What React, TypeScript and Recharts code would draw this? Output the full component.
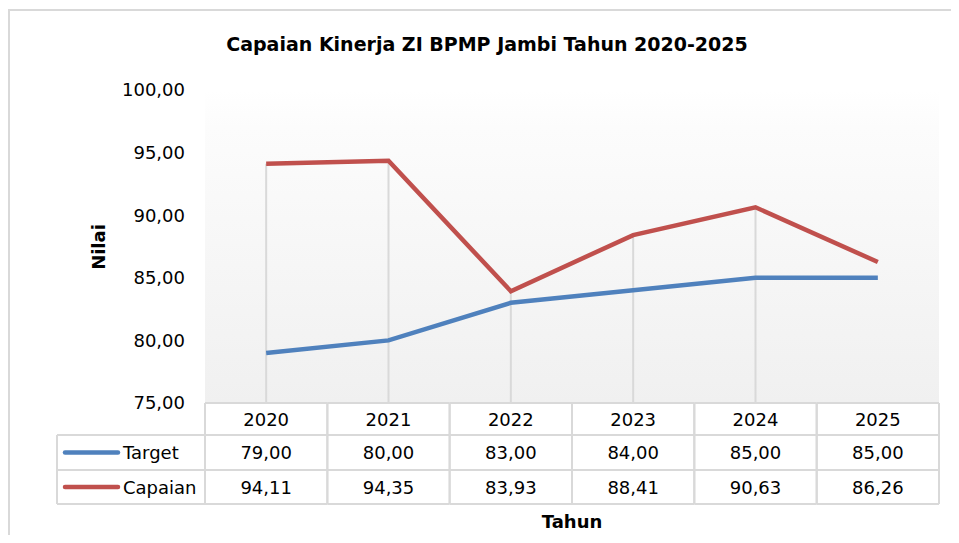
import React from "react";
import {
  CartesianGrid,
  Line,
  LineChart,
  ReferenceLine,
  XAxis,
  YAxis,
} from "recharts";

const years = ["2020", "2021", "2022", "2023", "2024", "2025"];
const target = [79, 80, 83, 84, 85, 85];
const capaian = [94.11, 94.35, 83.93, 88.41, 90.63, 86.26];
const yTicks = [75, 80, 85, 90, 95, 100];

const seriesInfo = [
  { key: "target", name: "Target", color: "#4f81bd", values: target },
  { key: "capaian", name: "Capaian", color: "#c0504d", values: capaian },
];

const data = years.map((year, i) => ({
  year,
  target: target[i],
  capaian: capaian[i],
}));

const W = 959;
const H = 543;
const PLOT_LEFT = 205;
const PLOT_RIGHT = 20;
const BAND = (W - PLOT_LEFT - PLOT_RIGHT) / years.length;
const ROW_H = [32, 35, 34];
const LEGEND_LEFT = 57;
const FONT = "'DejaVu Sans', Verdana, sans-serif";
const GRID = "#d9d9d9";

const fmt = (v: number) => v.toFixed(2).replace(".", ",");

const TableTick = (props: any) => {
  const { x, y, payload } = props;
  const i = payload.index;
  const left = x - BAND / 2;
  const right = x + BAND / 2;
  const r1 = y + ROW_H[0];
  const r2 = r1 + ROW_H[1];
  const r3 = r2 + ROW_H[2];
  const rowsMid = [y + ROW_H[0] / 2, r1 + ROW_H[1] / 2, r2 + ROW_H[2] / 2];
  return (
    <g>
      <line x1={left} x2={right} y1={y} y2={y} stroke={GRID} strokeWidth={2} />
      <line x1={left} x2={right} y1={r1} y2={r1} stroke={GRID} strokeWidth={2} />
      <line x1={left} x2={right} y1={r2} y2={r2} stroke={GRID} strokeWidth={2} />
      <line x1={left} x2={right} y1={r3} y2={r3} stroke={GRID} strokeWidth={2} />
      <line x1={left} x2={left} y1={y} y2={r3} stroke={GRID} strokeWidth={2} />
      <line x1={right} x2={right} y1={y} y2={r3} stroke={GRID} strokeWidth={2} />
      <text x={x} y={rowsMid[0]} textAnchor="middle" dominantBaseline="central" fontSize={18} fontFamily={FONT} fill="#000">
        {payload.value}
      </text>
      {seriesInfo.map((s, k) => (
        <text key={s.key} x={x} y={rowsMid[k + 1]} textAnchor="middle" dominantBaseline="central" fontSize={18} fontFamily={FONT} fill="#000">
          {fmt(s.values[i])}
        </text>
      ))}
      {i === 0 && (
        <g>
          <line x1={LEGEND_LEFT} x2={left} y1={r1} y2={r1} stroke={GRID} strokeWidth={2} />
          <line x1={LEGEND_LEFT} x2={left} y1={r2} y2={r2} stroke={GRID} strokeWidth={2} />
          <line x1={LEGEND_LEFT} x2={left} y1={r3} y2={r3} stroke={GRID} strokeWidth={2} />
          <line x1={LEGEND_LEFT} x2={LEGEND_LEFT} y1={r1} y2={r3} stroke={GRID} strokeWidth={2} />
          {seriesInfo.map((s, k) => (
            <g key={s.key}>
              <line x1={LEGEND_LEFT + 8} x2={LEGEND_LEFT + 61} y1={rowsMid[k + 1]} y2={rowsMid[k + 1]} stroke={s.color} strokeWidth={4.5} strokeLinecap="round" />
              <text x={LEGEND_LEFT + 66} y={rowsMid[k + 1]} dominantBaseline="central" fontSize={18} fontFamily={FONT} fill="#000">
                {s.name}
              </text>
            </g>
          ))}
        </g>
      )}
    </g>
  );
};

export default function App() {
  return (
    <div
      style={{
        position: "relative",
        width: W,
        height: H,
        margin: -8,
        background: "#fff",
        overflow: "hidden",
        fontFamily: FONT,
      }}
    >
      <div
        style={{
          position: "absolute",
          left: 8,
          top: 9,
          width: 1200,
          height: 800,
          borderTop: `2px solid ${GRID}`,
          borderLeft: `2px solid ${GRID}`,
        }}
      />
      <div
        style={{
          position: "absolute",
          left: 0,
          width: W,
          top: 33,
          textAlign: "center",
          paddingLeft: 15,
          boxSizing: "border-box",
          fontSize: 19,
          fontWeight: "bold",
          color: "#000",
        }}
      >
        Capaian Kinerja ZI BPMP Jambi Tahun 2020-2025
      </div>
      <div
        style={{
          position: "absolute",
          left: 98,
          top: 247,
          transform: "translate(-50%, -50%) rotate(-90deg)",
          fontSize: 18,
          fontWeight: "bold",
          color: "#000",
        }}
      >
        Nilai
      </div>
      <div
        style={{
          position: "absolute",
          left: 572,
          top: 521,
          transform: "translate(-50%, -50%)",
          fontSize: 18,
          fontWeight: "bold",
          color: "#000",
        }}
      >
        Tahun
      </div>
      <div style={{ position: "absolute", left: 0, top: 0 }}>
        <LineChart
          width={W}
          height={H}
          data={data}
          margin={{ top: 90, right: PLOT_RIGHT, bottom: 39, left: 0 }}
        >
          <defs>
            <linearGradient id="plotBg" x1="0" y1="0" x2="0" y2="1">
              <stop offset="0%" stopColor="#ffffff" />
              <stop offset="12%" stopColor="#fcfcfc" />
              <stop offset="100%" stopColor="#f0f0f0" />
            </linearGradient>
          </defs>
          <CartesianGrid stroke="none" fill="url(#plotBg)" fillOpacity={1} />
          <XAxis
            dataKey="year"
            height={101}
            axisLine={false}
            tickLine={false}
            tickSize={0}
            tickMargin={0}
            interval={0}
            padding={{ left: BAND / 2, right: BAND / 2 }}
            tick={<TableTick />}
          />
          <YAxis
            width={PLOT_LEFT}
            domain={[75, 100]}
            ticks={yTicks}
            axisLine={false}
            tickLine={false}
            tickSize={6}
            tickMargin={14}
            tickFormatter={fmt}
            tick={{ fontSize: 18, fontFamily: FONT, fill: "#000" }}
          />
          {years.map((yr, i) => (
            <ReferenceLine
              key={yr}
              segment={[
                { x: yr, y: 75 },
                { x: yr, y: Math.max(target[i], capaian[i]) },
              ]}
              stroke={GRID}
              strokeWidth={2}
            />
          ))}
          {seriesInfo.map((s) => (
            <Line
              key={s.key}
              type="linear"
              dataKey={s.key}
              name={s.name}
              stroke={s.color}
              strokeWidth={4.5}
              dot={false}
              activeDot={false}
              isAnimationActive={false}
            />
          ))}
        </LineChart>
      </div>
    </div>
  );
}
